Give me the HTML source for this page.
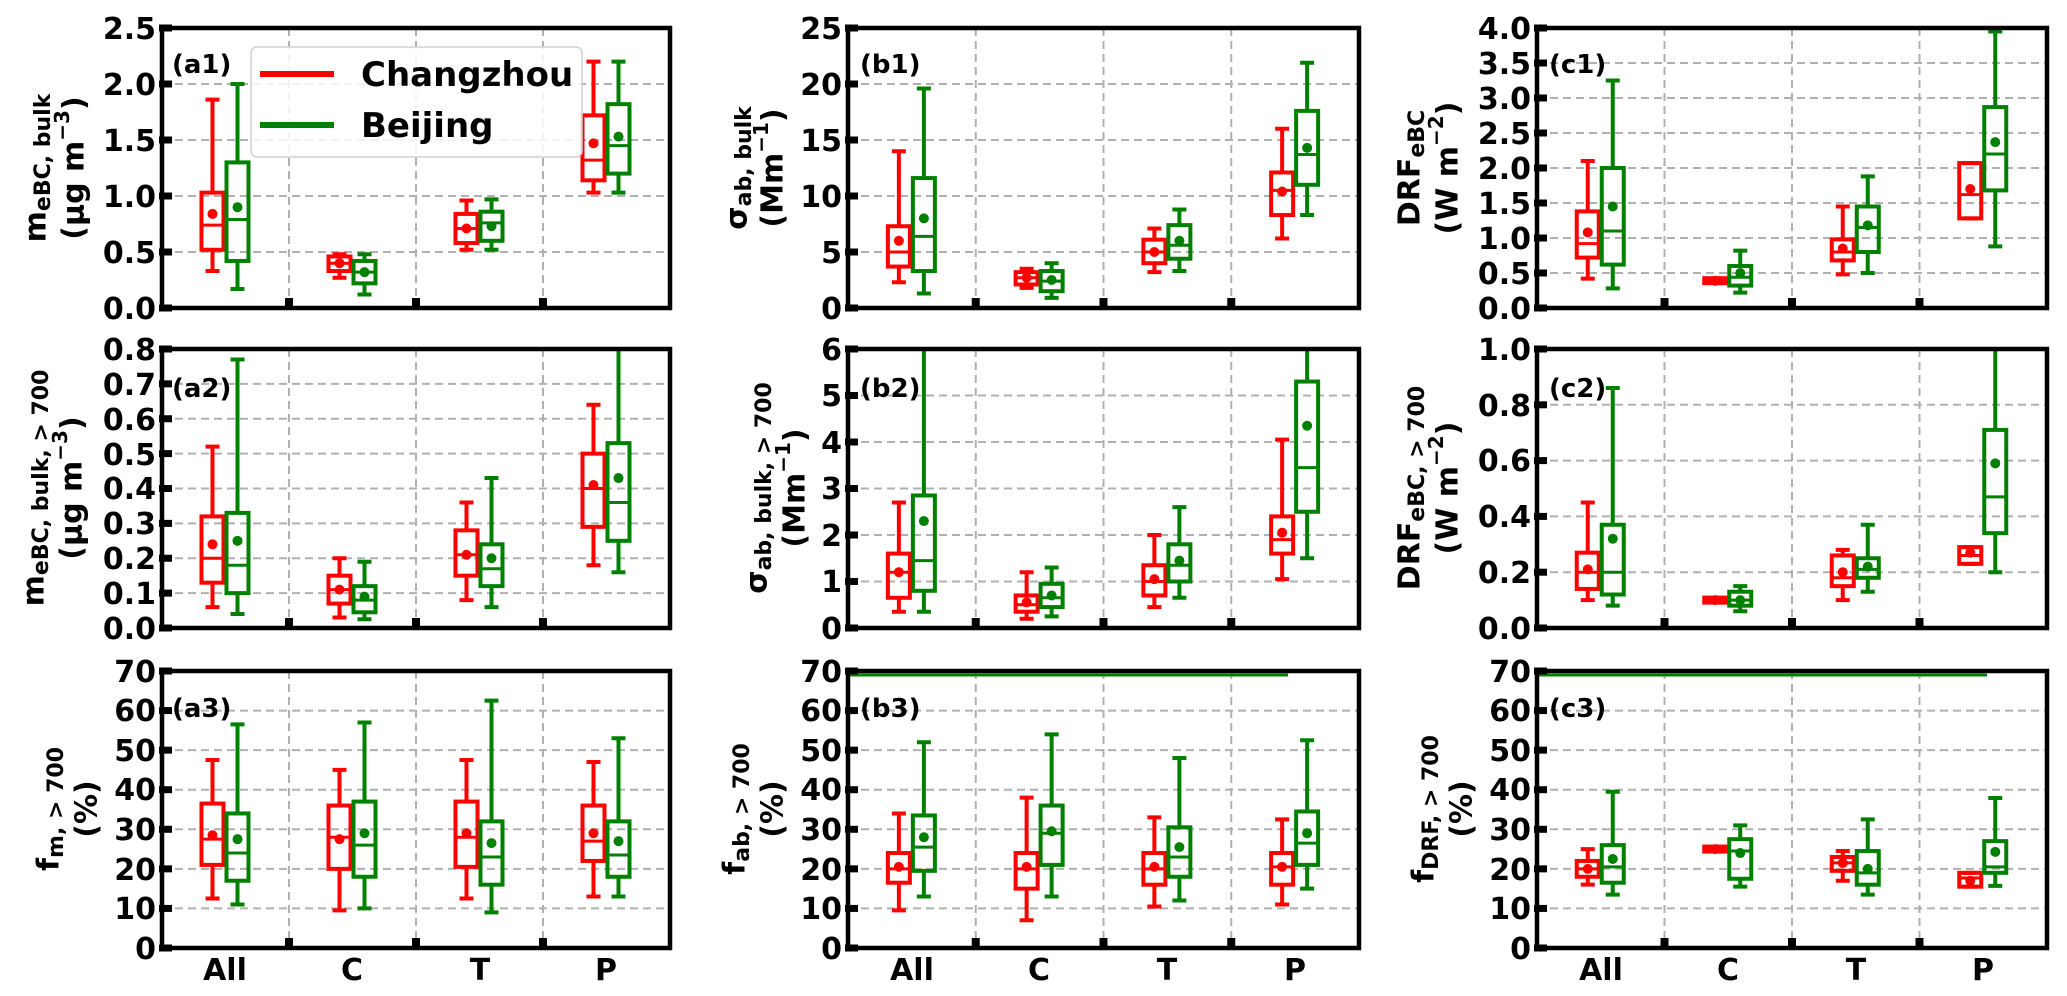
<!DOCTYPE html>
<html><head><meta charset="utf-8">
<style>
html,body{margin:0;padding:0;background:#fff;}
svg{display:block;font-family:"DejaVu Sans","Liberation Sans",sans-serif;font-weight:bold;}
</style></head>
<body>
<svg id="s" xmlns="http://www.w3.org/2000/svg" width="2067" height="996" viewBox="0 0 2067 996">
<rect width="2067" height="996" fill="#fff"/>
<g id="grid"></g>
<g id="shapes"></g>
<g id="axes"></g>
<rect x="251" y="47" width="331" height="110" rx="6" fill="#fff" fill-opacity="0.85" stroke="#d0d0d0" stroke-width="1.5"/>
<line x1="260" y1="74" x2="334" y2="74" stroke="#ff0000" stroke-width="6"/>
<line x1="260" y1="125" x2="334" y2="125" stroke="#008000" stroke-width="6"/>
<text x="361" y="86" font-size="34">Changzhou</text>
<text x="361" y="137" font-size="34">Beijing</text>
<g font-size="26">
<text x="172" y="73">(a1)</text><text x="860" y="73">(b1)</text><text x="1549" y="73">(c1)</text>
<text x="172" y="397">(a2)</text><text x="860" y="397">(b2)</text><text x="1549" y="397">(c2)</text>
<text x="172" y="717">(a3)</text><text x="860" y="717">(b3)</text><text x="1549" y="717">(c3)</text>
</g>
<g font-size="30" text-anchor="end">
<text x="156" y="39">2.5</text><text x="156" y="95">2.0</text><text x="156" y="151">1.5</text><text x="156" y="207">1.0</text><text x="156" y="263">0.5</text><text x="156" y="319">0.0</text>
<text x="156" y="360">0.8</text><text x="156" y="395">0.7</text><text x="156" y="430">0.6</text><text x="156" y="465">0.5</text><text x="156" y="499">0.4</text><text x="156" y="534">0.3</text><text x="156" y="569">0.2</text><text x="156" y="604">0.1</text><text x="156" y="639">0.0</text>
<text x="156" y="682">70</text><text x="156" y="721">60</text><text x="156" y="761">50</text><text x="156" y="800">40</text><text x="156" y="840">30</text><text x="156" y="880">20</text><text x="156" y="919">10</text><text x="156" y="959">0</text>
<text x="842" y="39">25</text><text x="842" y="95">20</text><text x="842" y="151">15</text><text x="842" y="207">10</text><text x="842" y="263">5</text><text x="842" y="319">0</text>
<text x="842" y="360">6</text><text x="842" y="406">5</text><text x="842" y="453">4</text><text x="842" y="499">3</text><text x="842" y="546">2</text><text x="842" y="592">1</text><text x="842" y="639">0</text>
<text x="842" y="682">70</text><text x="842" y="721">60</text><text x="842" y="761">50</text><text x="842" y="800">40</text><text x="842" y="840">30</text><text x="842" y="880">20</text><text x="842" y="919">10</text><text x="842" y="959">0</text>
<text x="1531" y="39">4.0</text><text x="1531" y="74">3.5</text><text x="1531" y="109">3.0</text><text x="1531" y="144">2.5</text><text x="1531" y="179">2.0</text><text x="1531" y="214">1.5</text><text x="1531" y="249">1.0</text><text x="1531" y="284">0.5</text><text x="1531" y="319">0.0</text>
<text x="1531" y="360">1.0</text><text x="1531" y="416">0.8</text><text x="1531" y="471">0.6</text><text x="1531" y="527">0.4</text><text x="1531" y="583">0.2</text><text x="1531" y="639">0.0</text>
<text x="1531" y="682">70</text><text x="1531" y="721">60</text><text x="1531" y="761">50</text><text x="1531" y="800">40</text><text x="1531" y="840">30</text><text x="1531" y="880">20</text><text x="1531" y="919">10</text><text x="1531" y="959">0</text>
</g>
<g font-size="30" text-anchor="middle">
<text x="225" y="980">All</text><text x="352" y="980">C</text><text x="480" y="980">T</text><text x="606" y="980">P</text>
<text x="912" y="980">All</text><text x="1039" y="980">C</text><text x="1167" y="980">T</text><text x="1295" y="980">P</text>
<text x="1601" y="980">All</text><text x="1728" y="980">C</text><text x="1856" y="980">T</text><text x="1983" y="980">P</text>
</g>
<g font-size="30" text-anchor="middle" dominant-baseline="central">
<text transform="translate(36,168) rotate(-90)">m<tspan font-size="22" dy="7">eBC, bulk</tspan></text>
<text transform="translate(74,168) rotate(-90)">(μg m<tspan font-size="20" dy="-12">−3</tspan><tspan dy="12">)</tspan></text>
<text transform="translate(34,488) rotate(-90)">m<tspan font-size="22" dy="7">eBC, bulk, &gt; 700</tspan></text>
<text transform="translate(72,488) rotate(-90)">(μg m<tspan font-size="20" dy="-12">−3</tspan><tspan dy="12">)</tspan></text>
<text transform="translate(49,809) rotate(-90)">f<tspan font-size="22" dy="7">m, &gt; 700</tspan></text>
<text transform="translate(87,809) rotate(-90)">(%)</text>
<text transform="translate(737,168) rotate(-90)">σ<tspan font-size="22" dy="7">ab, bulk</tspan></text>
<text transform="translate(773,168) rotate(-90)">(Mm<tspan font-size="20" dy="-12">−1</tspan><tspan dy="12">)</tspan></text>
<text transform="translate(757,488) rotate(-90)">σ<tspan font-size="22" dy="7">ab, bulk, &gt; 700</tspan></text>
<text transform="translate(795,488) rotate(-90)">(Mm<tspan font-size="20" dy="-12">−1</tspan><tspan dy="12">)</tspan></text>
<text transform="translate(735,809) rotate(-90)">f<tspan font-size="22" dy="7">ab, &gt; 700</tspan></text>
<text transform="translate(773,809) rotate(-90)">(%)</text>
<text transform="translate(1410,168) rotate(-90)">DRF<tspan font-size="22" dy="7">eBC</tspan></text>
<text transform="translate(1448,168) rotate(-90)">(W m<tspan font-size="20" dy="-12">−2</tspan><tspan dy="12">)</tspan></text>
<text transform="translate(1410,488) rotate(-90)">DRF<tspan font-size="22" dy="7">eBC, &gt; 700</tspan></text>
<text transform="translate(1448,488) rotate(-90)">(W m<tspan font-size="20" dy="-12">−2</tspan><tspan dy="12">)</tspan></text>
<text transform="translate(1424,809) rotate(-90)">f<tspan font-size="22" dy="7">DRF, &gt; 700</tspan></text>
<text transform="translate(1462,809) rotate(-90)">(%)</text>
</g>
</svg>
<script>
(function(){
var NS="http://www.w3.org/2000/svg";
var cols=[[162,670],[848,1359],[1537,2047]];
var rows=[[28,308],[349,628],[671,948]];
var R="#ff0000",G="#008000";
var P=[
 {c:0,r:0,max:2.5,step:0.5,d:[[[0.33,0.52,0.74,1.03,1.86,0.84],[0.17,0.42,0.79,1.3,2.0,0.9]],[[0.27,0.33,0.4,0.46,0.48,0.4],[0.12,0.22,0.32,0.42,0.48,0.32]],[[0.52,0.58,0.71,0.84,0.96,0.71],[0.52,0.6,0.76,0.86,0.97,0.73]],[[1.03,1.14,1.32,1.72,2.2,1.47],[1.03,1.2,1.45,1.82,2.2,1.53]]]},
 {c:0,r:1,max:0.8,step:0.1,d:[[[0.06,0.13,0.2,0.32,0.52,0.24],[0.04,0.1,0.18,0.33,0.77,0.25]],[[0.03,0.07,0.11,0.15,0.2,0.11],[0.025,0.045,0.08,0.12,0.19,0.09]],[[0.08,0.15,0.21,0.28,0.36,0.21],[0.06,0.12,0.17,0.24,0.43,0.2]],[[0.18,0.29,0.4,0.5,0.64,0.41],[0.16,0.25,0.36,0.53,0.85,0.43]]]},
 {c:0,r:2,max:70,step:10,d:[[[12.5,21,27.5,36.5,47.5,28.5],[11,17,24,34,56.5,27.5]],[[9.5,20,28,36,45,27.5],[10,18,26,37,57,29]],[[12.5,20.5,28,37,47.5,29],[9,16,23,32,62.5,26.5]],[[13,22,27,36,47,29],[13,18,23.5,32,53,27]]]},
 {c:1,r:0,max:25,step:5,d:[[[2.3,3.7,5.0,7.3,14,6],[1.3,3.3,6.4,11.6,19.6,8]],[[1.8,2.1,2.7,3.2,3.5,2.7],[0.9,1.5,2.4,3.3,4.0,2.5]],[[3.2,4.0,5.0,6.1,7.1,5],[3.3,4.4,5.6,7.4,8.8,6]],[[6.2,8.3,10.5,12.1,16,10.4],[8.3,11,13.7,17.6,21.9,14.3]]]},
 {c:1,r:1,max:6,step:1,d:[[[0.35,0.65,1.2,1.6,2.7,1.2],[0.35,0.8,1.45,2.85,6.5,2.3]],[[0.2,0.35,0.5,0.7,1.2,0.55],[0.25,0.45,0.65,0.95,1.3,0.7]],[[0.45,0.7,1.0,1.35,2.0,1.05],[0.65,1.0,1.35,1.8,2.6,1.45]],[[1.05,1.6,1.9,2.4,4.05,2.05],[1.5,2.5,3.45,5.3,6.5,4.35]]]},
 {c:1,r:2,max:70,step:10,top:1288,d:[[[9.5,16.5,20,24,34,20.5],[13,19.5,25.5,33.5,52,28]],[[7,15,20,24,38,20.5],[13,21,29,36,54,29.5]],[[10.5,16,20,24,33,20.5],[12,18,23,30.5,48,25.5]],[[11,16,20.5,24,32.5,20.5],[15,21,26.5,34.5,52.5,29]]]},
 {c:2,r:0,max:4,step:0.5,d:[[[0.42,0.72,0.92,1.38,2.1,1.08],[0.28,0.62,1.1,2.0,3.25,1.45]],[[0.39,0.39,0.39,0.39,0.39,0.39],[0.22,0.32,0.44,0.6,0.82,0.5]],[[0.48,0.68,0.8,0.98,1.45,0.85],[0.5,0.8,1.15,1.45,1.88,1.18]],[[1.28,1.28,1.62,2.07,2.07,1.7],[0.88,1.68,2.2,2.87,3.95,2.37]]]},
 {c:2,r:1,max:1,step:0.2,d:[[[0.1,0.14,0.2,0.27,0.45,0.21],[0.08,0.12,0.2,0.37,0.86,0.32]],[[0.1,0.1,0.1,0.1,0.1,0.1],[0.06,0.08,0.1,0.13,0.15,0.1]],[[0.1,0.15,0.18,0.26,0.28,0.2],[0.13,0.18,0.21,0.25,0.37,0.22]],[[0.23,0.23,0.26,0.29,0.29,0.27],[0.2,0.34,0.47,0.71,1.1,0.59]]]},
 {c:2,r:2,max:70,step:10,top:1987,d:[[[16,18,20,22,25,20],[13.5,16.5,20.5,26,39.5,22.5]],[[25,25,25,25,25,25],[15.5,17.5,24.5,27.5,31,24]],[[17,19.5,21.5,23,24.5,21.5],[13.5,16,19,24.5,32.5,20]],[[15.5,15.5,17.7,19,19,17],[15.7,19,20.5,27,37.9,24.3]]]}
];
var grid=document.getElementById('grid'),sh=document.getElementById('shapes'),ax=document.getElementById('axes'),svg=document.getElementById('s');
function el(p,t,a){var e=document.createElementNS(NS,t);for(var k in a)e.setAttribute(k,a[k]);p.appendChild(e);return e;}
var defs=el(svg,'defs',{});
P.forEach(function(p,i){
 var x0=cols[p.c][0],x1=cols[p.c][1],y0=rows[p.r][0],y1=rows[p.r][1];
 var W=x1-x0,H=y1-y0;
 function Y(v){return y1-v/p.max*H;}
 var n=Math.round(p.max/p.step);
 for(var k=1;k<n;k++){var y=Y(k*p.step);el(grid,'line',{x1:x0,x2:x1,y1:y,y2:y,stroke:'#b0b0b0','stroke-width':2,'stroke-dasharray':'8,5'});}
 for(var k=1;k<4;k++){var x=x0+W*k/4;el(grid,'line',{x1:x,x2:x,y1:y0,y2:y1,stroke:'#b0b0b0','stroke-width':2,'stroke-dasharray':'8,5'});}
 var cp=el(defs,'clipPath',{id:'c'+i});el(cp,'rect',{x:x0,y:y0,width:W,height:H});
 var g=el(sh,'g',{'clip-path':'url(#c'+i+')',fill:'none','stroke-width':4});
 p.d.forEach(function(cat,j){
  var cx=x0+W*(j+0.5)/4;
  cat.forEach(function(s,m){
   var col=m?G:R,bx=cx+(m?12:-13);
   var wl=Y(s[0]),q1=Y(s[1]),md=Y(s[2]),q3=Y(s[3]),wh=Y(s[4]),mn=Y(s[5]);
   if(q1-q3<4){var c=(q1+q3)/2;q1=c+2.5;q3=c-2.5;}
   el(g,'path',{d:'M'+bx+' '+q3+'V'+wh+'M'+(bx-7)+' '+wh+'H'+(bx+7)+'M'+bx+' '+q1+'V'+wl+'M'+(bx-7)+' '+wl+'H'+(bx+7),stroke:col});
   el(g,'rect',{x:bx-11,y:q3,width:22,height:q1-q3,stroke:col});
   el(g,'line',{x1:bx-11,x2:bx+11,y1:md,y2:md,stroke:col,'stroke-width':3});
   el(g,'circle',{cx:bx,cy:mn,r:5,fill:col,stroke:'none'});
  });
 });
 el(ax,'rect',{x:x0,y:y0,width:W,height:H,fill:'none',stroke:'#000','stroke-width':4.5});
 if(p.top){el(ax,'line',{x1:x0+2,x2:p.top,y1:y0+4,y2:y0+4,stroke:G,'stroke-width':3});}
 for(var k=0;k<=n;k++){var y=Y(k*p.step);el(ax,'rect',{x:x0-3,y:y-3.5,width:13,height:7,fill:'#000'});}
 for(var k=1;k<4;k++){var x=x0+W*k/4;el(ax,'rect',{x:x-4,y:y1-10,width:8,height:12,fill:'#000'});}
});
})();
</script>
</body></html>
